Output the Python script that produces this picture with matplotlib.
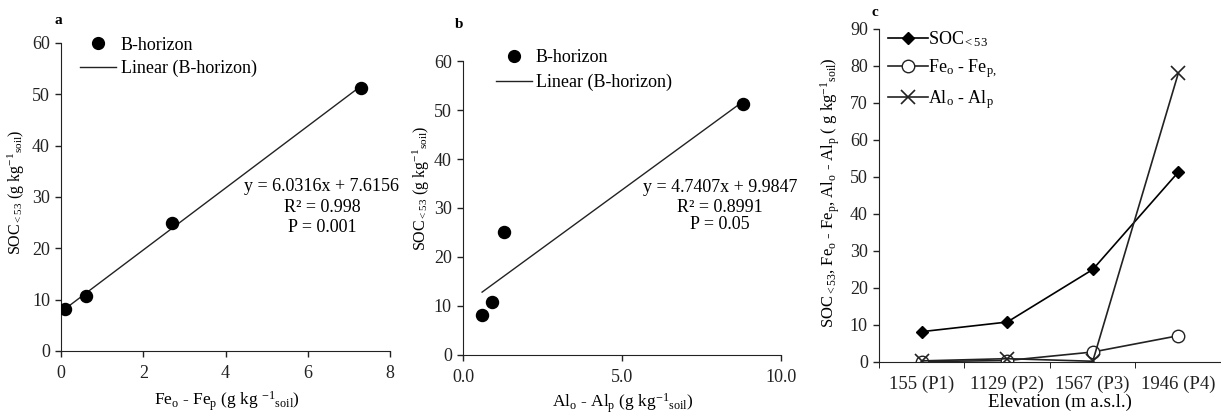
import numpy as np
import matplotlib
matplotlib.use("Agg")
import matplotlib.pyplot as plt
from matplotlib.lines import Line2D

plt.rcParams["font.family"] = ["Liberation Serif", "DejaVu Serif"]
plt.rcParams["mathtext.fontset"] = "custom"
plt.rcParams["mathtext.rm"] = "Liberation Serif"
plt.rcParams["mathtext.it"] = "Liberation Serif:italic"
plt.rcParams["font.size"] = 13

# Datos
fe_diff = [0.1, 0.6, 2.7, 7.3]
al_diff = [0.6, 0.9, 1.3, 8.8]
soc = [8.2, 10.8, 25.0, 51.3]
fit_a = (6.0316, 7.6156)
fit_b = (4.7407, 9.9847)

elevacion = ["155 (P1)", "1129 (P2)", "1567 (P3)", "1946 (P4)"]
soc_c = [8.2, 10.8, 25.0, 51.3]
fe_c = [0.1, 0.4, 2.7, 7.1]
al_c = [0.3, 0.9, 0.2, 78.0]

fig = plt.figure(figsize=(12.21, 4.17), dpi=100)


def estilo(ax):
    ax.spines["top"].set_visible(False)
    ax.spines["right"].set_visible(False)
    ax.tick_params(direction="out", length=4, width=1, colors="#222222", labelsize=13, pad=4)
    for s in ("left", "bottom"):
        ax.spines[s].set_color("#222222")


def etiquetas(ax, xl, yl, xpos, ypos, ysize=11.5, xsize=12.5):
    ax.set_xlabel(xl, fontsize=xsize)
    ax.set_ylabel(yl, fontsize=ysize)
    ax.xaxis.set_label_coords(*xpos)
    ax.yaxis.set_label_coords(*ypos)
    ax.xaxis.label.set_va("center")
    ax.yaxis.label.set_va("center")


# ---- panel a
ax1 = fig.add_axes([0.0500, 0.1583, 0.2694, 0.7386])
estilo(ax1)
ax1.tick_params(axis="x", pad=6)
ax1.scatter(fe_diff, soc, s=75, color="black", zorder=3)
xf = np.array([min(fe_diff), max(fe_diff)])
ax1.plot(xf, fit_a[0] * xf + fit_a[1], color="#222222", lw=1)
ax1.set_xlim(0, 8)
ax1.set_ylim(0, 60)
ax1.set_xticks([0, 2, 4, 6, 8])
ax1.set_yticks(range(0, 61, 10))
etiquetas(ax1, r"Fe$_{\mathrm{o}}$ - Fe$_{\mathrm{p}}$ (g kg $^{\mathrm{-1}}$$_{\mathrm{soil}}$)",
          r"SOC$_{\mathrm{<53}}$ (g kg$^{\mathrm{-1}}$$_{\mathrm{soil}}$)",
          (0.505, -0.162), (-0.135, 0.516))
ax1.text(0.793, 0.535, "y = 6.0316x + 7.6156", transform=ax1.transAxes, ha="center", va="center")
ax1.text(0.793, 0.465, "R² = 0.998", transform=ax1.transAxes, ha="center", va="center")
ax1.text(0.793, 0.400, "P = 0.001", transform=ax1.transAxes, ha="center", va="center")
h = [Line2D([], [], marker="o", ls="none", color="black", markersize=8.5),
     Line2D([], [], color="#222222", lw=1)]
ax1.legend(h, ["B-horizon", "Linear (B-horizon)"], frameon=False, loc="upper left",
           bbox_to_anchor=(0.03, 1.05), borderpad=0, handlelength=2.0,
           handletextpad=0.25, labelspacing=0.35, fontsize=13)
fig.text(58 / 1221, 1 - 21 / 417, "a", fontweight="bold", ha="center", va="center", fontsize=11)

# ---- panel b
ax2 = fig.add_axes([0.3792, 0.1487, 0.2604, 0.7050])
estilo(ax2)
ax2.tick_params(axis="x", pad=6)
ax2.scatter(al_diff, soc, s=75, color="black", zorder=3)
xf = np.array([min(al_diff), max(al_diff)])
ax2.plot(xf, fit_b[0] * xf + fit_b[1], color="#222222", lw=1)
ax2.set_xlim(0, 10)
ax2.set_ylim(0, 60)
ax2.set_xticks([0, 5, 10])
ax2.set_xticklabels(["0.0", "5.0", "10.0"])
ax2.set_yticks(range(0, 61, 10))
etiquetas(ax2, r"Al$_{\mathrm{o}}$ - Al$_{\mathrm{p}}$ (g kg$^{\mathrm{-1}}$$_{\mathrm{soil}}$)",
          r"SOC$_{\mathrm{<53}}$ (g kg$^{\mathrm{-1}}$$_{\mathrm{soil}}$)",
          (0.503, -0.165), (-0.132, 0.568))
ax2.text(0.808, 0.571, "y = 4.7407x + 9.9847", transform=ax2.transAxes, ha="center", va="center")
ax2.text(0.808, 0.502, "R² = 0.8991", transform=ax2.transAxes, ha="center", va="center")
ax2.text(0.808, 0.445, "P = 0.05", transform=ax2.transAxes, ha="center", va="center")
ax2.legend(h, ["B-horizon", "Linear (B-horizon)"], frameon=False, loc="upper left",
           bbox_to_anchor=(0.075, 1.07), borderpad=0, handlelength=2.0,
           handletextpad=0.2, labelspacing=0.4, fontsize=13)
fig.text(459 / 1221, 1 - 24 / 417, "b", fontweight="bold", ha="center", va="center", fontsize=11)

# ---- panel c
ax3 = fig.add_axes([0.7199, 0.1319, 0.2801, 0.7986])
estilo(ax3)
pos = np.arange(len(elevacion))
ax3.plot(pos, soc_c, color="black", lw=1.2, marker="D", markersize=6.5,
         markerfacecolor="black", label=r"SOC$_{\mathrm{<53}}$")
ax3.plot(pos, fe_c, color="#222222", lw=1.2, marker="o", markersize=9,
         markerfacecolor="white", markeredgecolor="#222222", label=r"Fe$_{\mathrm{o}}$ - Fe$_{\mathrm{p,}}$")
ax3.plot(pos, al_c, color="#222222", lw=1.2, marker="x", markersize=9.5,
         markeredgewidth=1.2, label=r"Al$_{\mathrm{o}}$ - Al$_{\mathrm{p}}$")
ax3.set_xlim(-0.5, 3.5)
ax3.set_ylim(0, 90)
ax3.set_yticks(range(0, 91, 10))
ax3.set_xticks(pos)
ax3.set_xticklabels(elevacion)
ax3.set_xticks(np.arange(-0.5, 3.6, 1.0), minor=True)
ax3.tick_params(axis="x", which="major", length=0, pad=10, labelsize=13.5)
ax3.tick_params(axis="x", which="minor", length=4, direction="out")
etiquetas(ax3, "Elevation (m a.s.l.)",
          r"SOC$_{\mathrm{<53}}$, Fe$_{\mathrm{o}}$ - Fe$_{\mathrm{p}}$, Al$_{\mathrm{o}}$ - Al$_{\mathrm{p}}$ ( g kg$^{\mathrm{-1}}$$_{\mathrm{soil}}$)",
          (0.529, -0.122), (-0.143, 0.51), ysize=12, xsize=13.5)
ax3.legend(frameon=False, loc="upper left", bbox_to_anchor=(0.0, 1.025), borderpad=0,
           handlelength=2.2, handletextpad=0.0, labelspacing=0.45, fontsize=13)
fig.text(875 / 1221, 1 - 13 / 417, "c", fontweight="bold", ha="center", va="center", fontsize=11)

fig.savefig("out.png", dpi=100)
